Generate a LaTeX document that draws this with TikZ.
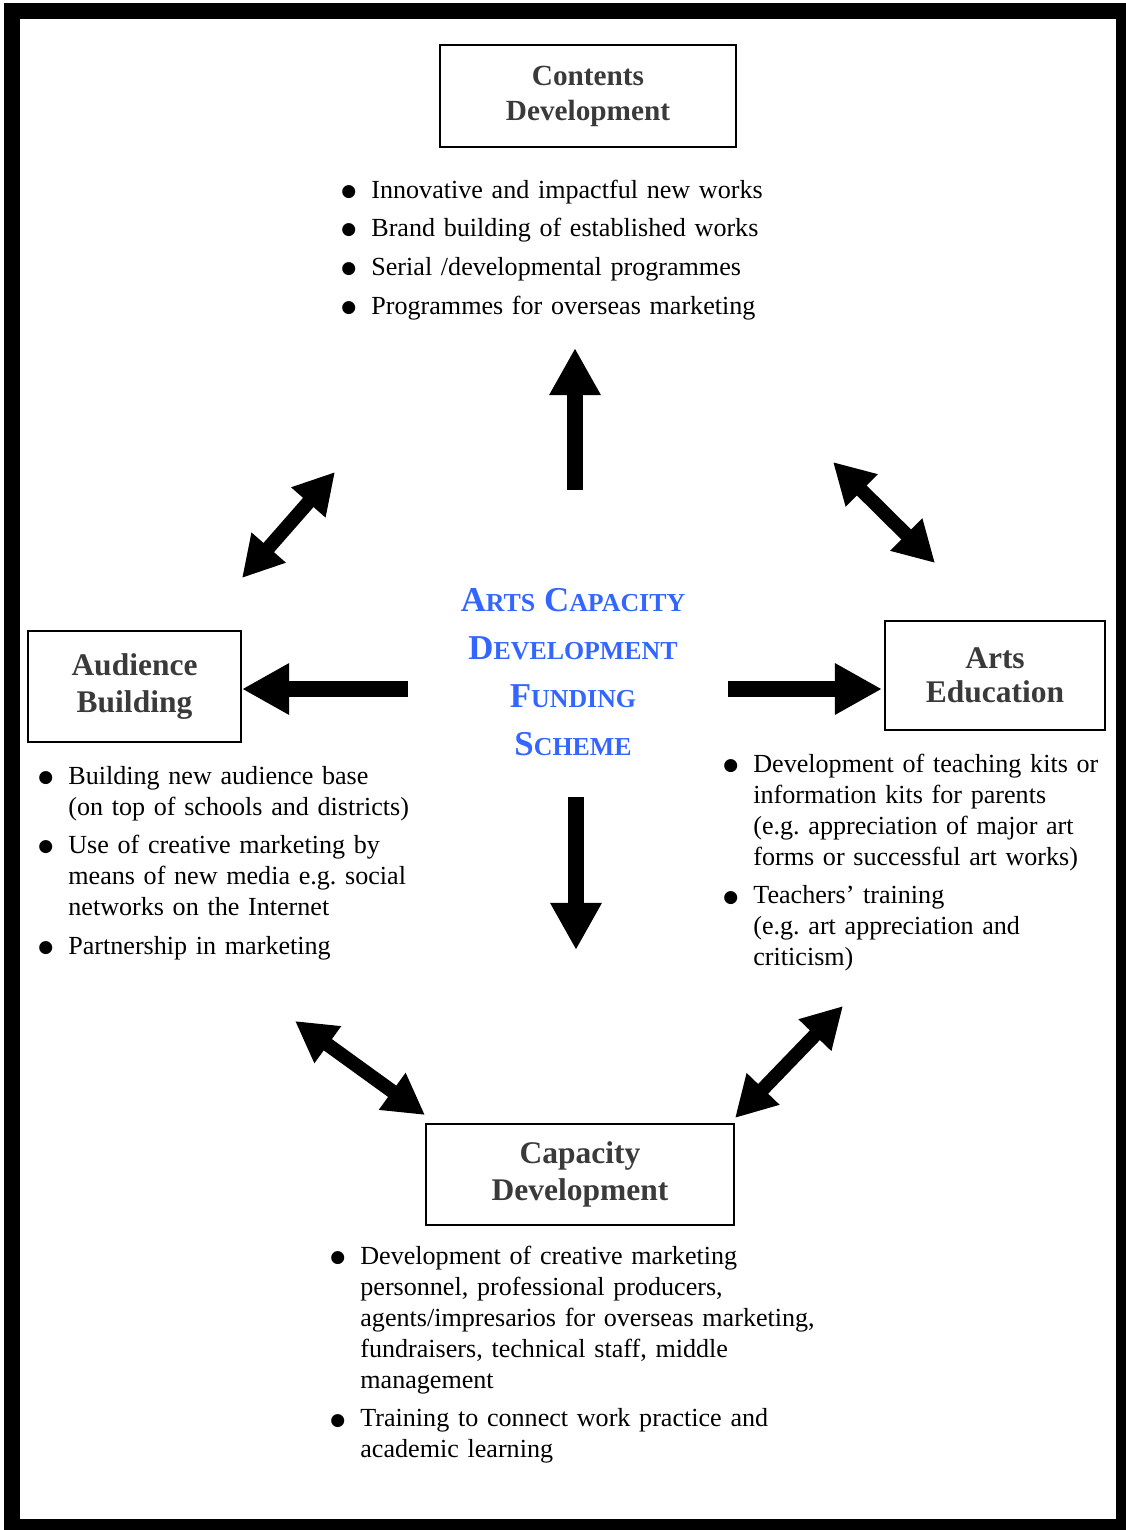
\documentclass[tikz,border=0pt]{standalone}
\usepackage{fontspec}
\setmainfont{Liberation Serif}
\newfontfamily\dotfont{DejaVu Sans}
\usetikzlibrary{arrows.meta, positioning}

\definecolor{schemeblue}{RGB}{51,102,255}
\definecolor{titlegray}{RGB}{58,58,58}

\newlength{\bulletindent}
\setlength{\bulletindent}{13.3pt}
\newcommand{\bfirst}{\hangindent=\bulletindent\hangafter=1%
  \makebox[\bulletindent][l]{\raisebox{0.15ex}{\dotfont\fontsize{7.6}{8}\selectfont ●}}}
\newcommand{\bitem}{\par\noindent\bfirst}
\newcommand{\listsetup}{\setlength{\parskip}{3.4pt}\frenchspacing}
\newcommand{\sccap}[2]{{\fontsize{15.5}{18}\selectfont #1}{\fontsize{11.5}{18}\selectfont #2}}

\begin{document}
\begin{tikzpicture}[x=0.4445pt, y=-0.4445pt]
                \tikzset{
                    topic/.style={draw, line width=0.7pt, align=center, text=titlegray,
                        font=\bfseries\fontsize{14}{16.2}\selectfont},
                    blist/.style={anchor=base west, inner sep=0pt, align=left,
                        font=\fontsize{11.6}{13.8}\selectfont},
                    bigarrow/.style={line width=7.1pt, -{Triangle[length=21pt, width=21.5pt]}},
                    twoway/.style={line width=6.2pt,
                        {Triangle[length=18pt, width=19pt]}-{Triangle[length=18pt, width=19pt]}}
                }

                \useasboundingbox (0,0) rectangle (1125,1530);
                \draw[line width=7.1pt] (12,11) rectangle (1124,1527);

                % centre
                \node[text=schemeblue, align=center, font=\bfseries\fontsize{15.5}{21.3}\selectfont]
                    (scheme) at (573,672)
                    {\sccap{A}{RTS} \sccap{C}{APACITY}\\ \sccap{D}{EVELOPMENT}\\
                     \sccap{F}{UNDING}\\ \sccap{S}{CHEME}};

                % four areas
                \node[topic, minimum width=131.6pt, minimum height=45.3pt,
                    font=\bfseries\fontsize{13}{15.6}\selectfont]
                    (contents) at (588,96) {Contents\\Development};
                \node[topic, minimum width=94.7pt, minimum height=49.3pt]
                    (audience) at (134.5,686.5) {Audience\\Building};
                \node[topic, minimum width=97.8pt, minimum height=48.5pt]
                    (education) at (995,675.5) {Arts\\[-1pt]Education};
                \node[topic, minimum width=136.9pt, minimum height=44.9pt]
                    (capacity) at (580,1174.5) {Capacity\\Development};

                % bullet lists
                \node[blist, text width=200pt] (contentslist) at (341,198)
                    {\listsetup
                     \bfirst Innovative and impactful new works
                     \bitem Brand building of established works
                     \bitem Serial /developmental programmes
                     \bitem Programmes for overseas marketing\par};
                \node[blist, text width=180pt] (audiencelist) at (38,784)
                    {\listsetup
                     \bfirst Building new audience base\newline (on top of schools and districts)
                     \bitem Use of creative marketing by\newline means of new media e.g. social\newline networks on the Internet
                     \bitem Partnership in marketing\par};
                \node[blist, text width=175pt] (educationlist) at (723,772)
                    {\listsetup
                     \bfirst Development of teaching kits or\newline information kits for parents\newline (e.g. appreciation of major art\newline forms or successful art works)
                     \bitem Teachers’ training\newline (e.g. art appreciation and\newline criticism)\par};
                \node[blist, text width=230pt] (capacitylist) at (330,1264)
                    {\listsetup
                     \bfirst Development of creative marketing\newline personnel, professional producers,\newline agents/impresarios for overseas marketing,\newline fundraisers, technical staff, middle\newline management
                     \bitem Training to connect work practice and\newline academic learning\par};

                % arrow ends
                \coordinate (upfrom) at (575,490);   \coordinate (upto) at (575,348);
                \coordinate (downfrom) at (576,797); \coordinate (downto) at (576,950);
                \coordinate (leftfrom) at (408,689); \coordinate (leftto) at (242,689);
                \coordinate (rightfrom) at (728,689); \coordinate (rightto) at (882,689);
                \coordinate (tla) at (242,578); \coordinate (tlb) at (335,472);
                \coordinate (tra) at (833,462); \coordinate (trb) at (935,563);
                \coordinate (bla) at (295,1021); \coordinate (blb) at (425,1115);
                \coordinate (bra) at (843,1006); \coordinate (brb) at (735,1118);

                \draw[bigarrow] (upfrom) -- (upto);
                \draw[bigarrow] (downfrom) -- (downto);
                \draw[bigarrow] (leftfrom) -- (leftto);
                \draw[bigarrow] (rightfrom) -- (rightto);

                \draw[twoway] (tla) -- (tlb);
                \draw[twoway] (tra) -- (trb);
                \draw[twoway] (bla) -- (blb);
                \draw[twoway] (bra) -- (brb);

\end{tikzpicture}
\end{document}
